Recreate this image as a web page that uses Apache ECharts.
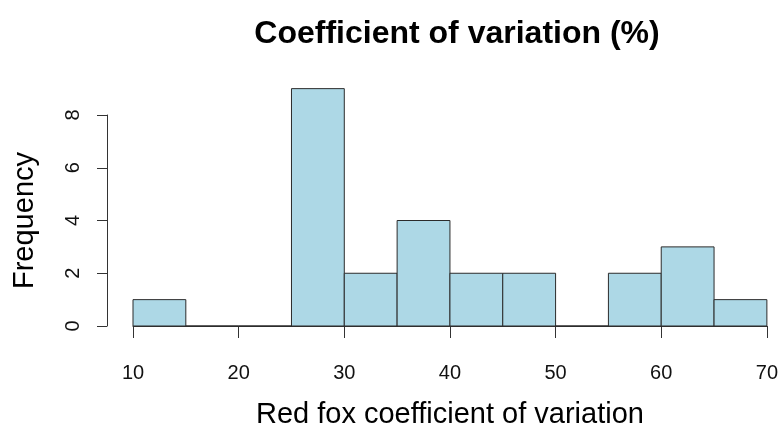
<!DOCTYPE html>
<html>
<head>
<meta charset="utf-8">
<script src="https://cdn.jsdelivr.net/npm/echarts@6/dist/echarts.min.js"></script>
<style>
  html, body { margin: 0; padding: 0; background: #fff; }
  #chart { width: 781px; height: 434px; }
</style>
</head>
<body>
<div id="chart"></div>
<script>
// Histogram of red fox coefficient of variation (%), bins of width 5
const binStarts = [10, 15, 20, 25, 30, 35, 40, 45, 50, 55, 60, 65];
const binWidth = 5;
const counts = [1, 0, 0, 9, 2, 4, 2, 2, 0, 2, 3, 1];
const xTicks = [10, 20, 30, 40, 50, 60, 70];
const yTicks = [0, 2, 4, 6, 8];

const FONT = '"Liberation Sans", Arial, Helvetica, sans-serif';

const chart = echarts.init(document.getElementById('chart'), null, { renderer: 'canvas' });

const data = binStarts.map((s, i) => [s, s + binWidth, counts[i]]);

chart.setOption({
  animation: false,
  backgroundColor: '#ffffff',
  title: {
    text: 'Coefficient of variation (%)',
    left: 452,
    textAlign: 'center',
    top: 13,
    textStyle: { fontFamily: FONT, fontSize: 32, fontWeight: 'bold', color: '#000' }
  },
  grid: { left: 133, right: 12, top: 115, bottom: 100, containLabel: false },
  xAxis: {
    type: 'value',
    min: xTicks[0],
    max: xTicks[xTicks.length - 1],
    interval: 10,
    offset: 11,
    name: 'Red fox coefficient of variation',
    nameLocation: 'middle',
    nameGap: 63,
    nameTextStyle: { fontFamily: FONT, fontSize: 29, color: '#000' },
    axisLine: { show: true, lineStyle: { color: '#333', width: 1 } },
    axisTick: { show: true, length: 12, lineStyle: { color: '#333', width: 1 } },
    axisLabel: { margin: 26, fontFamily: FONT, fontSize: 20, color: '#111' },
    splitLine: { show: false }
  },
  yAxis: {
    type: 'value',
    min: yTicks[0],
    max: yTicks[yTicks.length - 1],
    interval: 2,
    offset: 26,
    name: 'Frequency',
    nameLocation: 'middle',
    nameGap: 68,
    nameTextStyle: { fontFamily: FONT, fontSize: 29, color: '#000' },
    axisLine: { show: true, lineStyle: { color: '#333', width: 1 } },
    axisTick: { show: true, length: 10, lineStyle: { color: '#333', width: 1 } },
    axisLabel: { rotate: 90, margin: 24, fontFamily: FONT, fontSize: 20, color: '#111' },
    splitLine: { show: false }
  },
  series: [{
    type: 'custom',
    clip: false,
    data: data,
    encode: { x: [0, 1], y: 2 },
    renderItem: function (params, api) {
      const p0 = api.coord([api.value(0), api.value(2)]);
      const p1 = api.coord([api.value(1), 0]);
      return {
        type: 'rect',
        shape: { x: p0[0], y: p0[1], width: p1[0] - p0[0], height: p1[1] - p0[1] },
        style: { fill: '#ADD8E6', stroke: '#2b2b2b', lineWidth: 1 }
      };
    }
  }]
});
</script>
</body>
</html>
